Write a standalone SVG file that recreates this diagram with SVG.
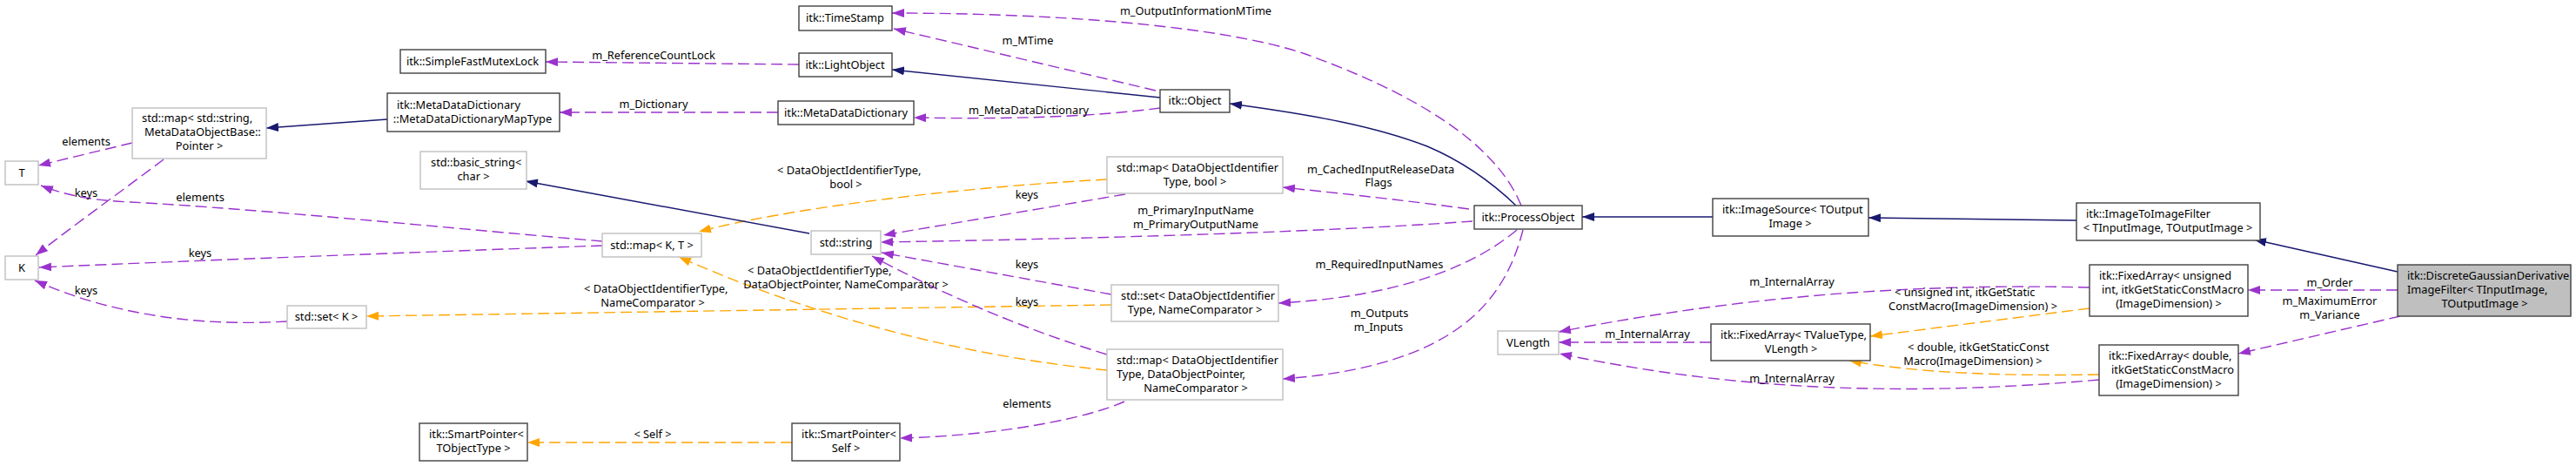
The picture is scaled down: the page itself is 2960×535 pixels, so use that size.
<svg xmlns="http://www.w3.org/2000/svg" width="2960" height="535" viewBox="0 0 2960 535">
<style>
text{font-family:"Noto Sans","Open Sans","DejaVu Sans",sans-serif;font-size:12.8px;fill:#000}
.m{text-anchor:middle}
.s{text-anchor:start}
.n rect{fill:#fff;stroke:#404040;stroke-width:1.4}
.g rect{fill:#fff;stroke:#bfbfbf;stroke-width:1.4}
.main rect{fill:#bfbfbf;stroke:#404040;stroke-width:1.4}
.e path{fill:none;stroke-width:1.4}
.p{stroke:#9a32cd;stroke-dasharray:13,6}
.o{stroke:#ffa500;stroke-dasharray:13,6}
.b{stroke:#191970}
</style>
<defs>
<marker id="ap" viewBox="0 0 14 10" refX="14" refY="5" markerWidth="14" markerHeight="10" markerUnits="userSpaceOnUse" orient="auto"><path d="M0,0 L14,5 L0,10 z" fill="#9a32cd"/></marker>
<marker id="ao" viewBox="0 0 14 10" refX="14" refY="5" markerWidth="14" markerHeight="10" markerUnits="userSpaceOnUse" orient="auto"><path d="M0,0 L14,5 L0,10 z" fill="#ffa500"/></marker>
<marker id="ab" viewBox="0 0 14 10" refX="14" refY="5" markerWidth="14" markerHeight="10" markerUnits="userSpaceOnUse" orient="auto"><path d="M0,0 L14,5 L0,10 z" fill="#191970"/></marker>
</defs>
<rect width="2960" height="535" fill="#fff"/>

<g id="edges" class="e">
<path class="b" marker-end="url(#ab)" d="M2755,312 L2590,275"/>
<path class="b" marker-end="url(#ab)" d="M2386,253 L2147,250"/>
<path class="b" marker-end="url(#ab)" d="M1968,249 L1818,249"/>
<path class="b" marker-end="url(#ab)" d="M1742,236 C1715,210 1680,185 1640,168 C1580,145 1510,132 1413,119"/>
<path class="b" marker-end="url(#ab)" d="M1333,112 L1025,80"/>
<path class="p" marker-end="url(#ap)" d="M1328,104 L1027,33"/>
<path class="p" marker-end="url(#ap)" d="M1748,236 C1725,180 1660,120 1500,62 C1400,28 1200,15 1025,15"/>
<path class="p" marker-end="url(#ap)" d="M918,74 L627,71"/>
<path class="p" marker-end="url(#ap)" d="M894,129 L643,129"/>
<path class="p" marker-end="url(#ap)" d="M1333,124 C1250,135 1150,137 1050,135"/>
<path class="b" marker-end="url(#ab)" d="M445,137 L306,147"/>
<path class="p" marker-end="url(#ap)" d="M152,164 L44,190"/>
<path class="p" marker-end="url(#ap)" d="M188,183 C150,212 80,262 41,293"/>
<path class="p" marker-end="url(#ap)" d="M692,277 C550,265 300,240 150,232 C110,230 80,226 47,213"/>
<path class="p" marker-end="url(#ap)" d="M692,282 C550,287 250,298 45,307"/>
<path class="p" marker-end="url(#ap)" d="M330,369 C230,375 130,362 40,322"/>
<path class="o" marker-end="url(#ao)" d="M1277,350 L421,363"/>
<path class="o" marker-end="url(#ao)" d="M1272,206 C1100,215 900,240 803,266"/>
<path class="o" marker-end="url(#ao)" d="M1272,425 C1120,410 950,370 780,295"/>
<path class="p" marker-end="url(#ap)" d="M1293,223 L1015,270"/>
<path class="p" marker-end="url(#ap)" d="M1277,338 L1013,290"/>
<path class="p" marker-end="url(#ap)" d="M1272,407 C1150,370 1050,320 1002,294"/>
<path class="b" marker-end="url(#ab)" d="M930,268 L604,208"/>
<path class="p" marker-end="url(#ap)" d="M1292,461 C1250,480 1150,500 1034,503"/>
<path class="o" marker-end="url(#ao)" d="M910,508 L606,508"/>
<path class="p" marker-end="url(#ap)" d="M1688,240 C1600,228 1520,220 1474,215"/>
<path class="p" marker-end="url(#ap)" d="M1692,254 C1500,268 1200,275 1012,278"/>
<path class="p" marker-end="url(#ap)" d="M1743,264 C1700,300 1620,340 1469,348"/>
<path class="p" marker-end="url(#ap)" d="M1750,264 C1730,340 1680,420 1474,435"/>
<path class="p" marker-end="url(#ap)" d="M2755,333 L2583,333"/>
<path class="p" marker-end="url(#ap)" d="M2758,363 L2572,406"/>
<path class="o" marker-end="url(#ao)" d="M2401,354 L2149,386"/>
<path class="o" marker-end="url(#ao)" d="M2412,430 C2300,432 2200,428 2125,414"/>
<path class="p" marker-end="url(#ap)" d="M2401,330 C2200,325 2000,340 1791,381"/>
<path class="p" marker-end="url(#ap)" d="M1966,393 L1791,393"/>
<path class="p" marker-end="url(#ap)" d="M2412,436 C2200,455 2000,450 1792,406"/>
</g>

<g id="edge-labels">
<text class="m" x="1374" y="17">m_OutputInformationMTime</text>
<text class="m" x="1181" y="51">m_MTime</text>
<text class="m" x="751" y="68">m_ReferenceCountLock</text>
<text class="m" x="751" y="124">m_Dictionary</text>
<text class="m" x="1182" y="131">m_MetaDataDictionary</text>
<text class="m" x="99" y="167">elements</text>
<text class="m" x="99" y="226">keys</text>
<text class="m" x="230" y="231">elements</text>
<text class="m" x="230" y="295">keys</text>
<text class="m" x="99" y="338">keys</text>
<text class="s" x="671" y="336">&lt; DataObjectIdentifierType,</text>
<text class="m" x="750" y="352">NameComparator &gt;</text>
<text class="s" x="893" y="200">&lt; DataObjectIdentifierType,</text>
<text class="m" x="972" y="216">bool &gt;</text>
<text class="s" x="859" y="315">&lt; DataObjectIdentifierType,</text>
<text class="m" x="972" y="331">DataObjectPointer, NameComparator &gt;</text>
<text class="m" x="1180" y="228">keys</text>
<text class="m" x="1180" y="308">keys</text>
<text class="m" x="1180" y="351">keys</text>
<text class="m" x="1180" y="468">elements</text>
<text class="m" x="750" y="503">&lt; Self &gt;</text>
<text class="s" x="1502" y="199">m_CachedInputReleaseData</text>
<text class="m" x="1584" y="214">Flags</text>
<text class="m" x="1374" y="246">m_PrimaryInputName</text>
<text class="m" x="1374" y="262">m_PrimaryOutputName</text>
<text class="m" x="1585" y="308">m_RequiredInputNames</text>
<text class="m" x="1585" y="364">m_Outputs</text>
<text class="m" x="1584" y="380">m_Inputs</text>
<text class="m" x="2059" y="328">m_InternalArray</text>
<text class="m" x="1893" y="388">m_InternalArray</text>
<text class="m" x="2059" y="439">m_InternalArray</text>
<text class="s" x="2177" y="340">&lt; unsigned int, itkGetStatic</text>
<text class="m" x="2267" y="356">ConstMacro(ImageDimension) &gt;</text>
<text class="s" x="2192" y="403">&lt; double, itkGetStaticConst</text>
<text class="m" x="2267" y="419">Macro(ImageDimension) &gt;</text>
<text class="m" x="2677" y="329">m_Order</text>
<text class="m" x="2677" y="350">m_MaximumError</text>
<text class="m" x="2677" y="366">m_Variance</text>
</g>

<g id="n_main" class="main"><rect x="2755" y="304" width="199" height="59"/>
<text class="s" x="2766" y="321">itk::DiscreteGaussianDerivative</text>
<text class="s" x="2766" y="337">ImageFilter&lt; TInputImage,</text>
<text class="m" x="2855" y="353">TOutputImage &gt;</text></g>

<g id="n_imagetoimage" class="n"><rect x="2386" y="233" width="211" height="43"/>
<text class="s" x="2397" y="250">itk::ImageToImageFilter</text>
<text class="m" x="2491" y="266">&lt; TInputImage, TOutputImage &gt;</text></g>

<g id="n_imagesource" class="n"><rect x="1968" y="228" width="179" height="43"/>
<text class="s" x="1979" y="245">itk::ImageSource&lt; TOutput</text>
<text class="m" x="2057" y="261">Image &gt;</text></g>

<g id="n_processobject" class="n"><rect x="1694" y="236" width="124" height="27"/>
<text class="m" x="1756" y="254">itk::ProcessObject</text></g>

<g id="n_object" class="n"><rect x="1333" y="103" width="80" height="26"/>
<text class="m" x="1373" y="120">itk::Object</text></g>

<g id="n_lightobject" class="n"><rect x="918" y="61" width="107" height="27"/>
<text class="m" x="971" y="79">itk::LightObject</text></g>

<g id="n_timestamp" class="n"><rect x="918" y="7" width="107" height="28"/>
<text class="m" x="971" y="25">itk::TimeStamp</text></g>

<g id="n_mutex" class="n"><rect x="460" y="57" width="167" height="27"/>
<text class="m" x="543" y="75">itk::SimpleFastMutexLock</text></g>

<g id="n_mdd" class="n"><rect x="894" y="116" width="156" height="27"/>
<text class="m" x="972" y="134">itk::MetaDataDictionary</text></g>

<g id="n_mddmap" class="n"><rect x="445" y="107" width="198" height="44"/>
<text class="s" x="456" y="125">itk::MetaDataDictionary</text>
<text class="m" x="543" y="141">::MetaDataDictionaryMapType</text></g>

<g id="n_mapstring" class="g"><rect x="152" y="124" width="154" height="58"/>
<text class="s" x="163" y="140">std::map&lt; std::string,</text>
<text class="s" x="166" y="156">MetaDataObjectBase::</text>
<text class="m" x="229" y="172">Pointer &gt;</text></g>

<g id="n_T" class="g"><rect x="6" y="185" width="38" height="27"/>
<text class="m" x="25" y="203">T</text></g>

<g id="n_K" class="g"><rect x="6" y="294" width="38" height="27"/>
<text class="m" x="25" y="312">K</text></g>

<g id="n_basicstring" class="g"><rect x="483" y="174" width="122" height="43"/>
<text class="s" x="495" y="191">std::basic_string&lt;</text>
<text class="m" x="544" y="207">char &gt;</text></g>

<g id="n_mapbool" class="g"><rect x="1272" y="180" width="202" height="42"/>
<text class="s" x="1283" y="197">std::map&lt; DataObjectIdentifier</text>
<text class="m" x="1373" y="213">Type, bool &gt;</text></g>

<g id="n_string" class="g"><rect x="932" y="265" width="80" height="27"/>
<text class="m" x="972" y="283">std::string</text></g>

<g id="n_mapKT" class="g"><rect x="692" y="268" width="114" height="27"/>
<text class="m" x="749" y="286">std::map&lt; K, T &gt;</text></g>

<g id="n_setK" class="g"><rect x="330" y="351" width="91" height="26"/>
<text class="m" x="375" y="368">std::set&lt; K &gt;</text></g>

<g id="n_setdoi" class="g"><rect x="1277" y="327" width="192" height="42"/>
<text class="s" x="1288" y="344">std::set&lt; DataObjectIdentifier</text>
<text class="m" x="1373" y="360">Type, NameComparator &gt;</text></g>

<g id="n_mapdop" class="g"><rect x="1272" y="401" width="202" height="58"/>
<text class="s" x="1283" y="418">std::map&lt; DataObjectIdentifier</text>
<text class="s" x="1283" y="434">Type, DataObjectPointer,</text>
<text class="m" x="1374" y="450">NameComparator &gt;</text></g>

<g id="n_sptobj" class="n"><rect x="482" y="486" width="124" height="43"/>
<text class="s" x="493" y="503">itk::SmartPointer&lt;</text>
<text class="m" x="544" y="519">TObjectType &gt;</text></g>

<g id="n_sptself" class="n"><rect x="910" y="486" width="124" height="43"/>
<text class="s" x="921" y="503">itk::SmartPointer&lt;</text>
<text class="m" x="972" y="519">Self &gt;</text></g>

<g id="n_vlength" class="g"><rect x="1721" y="380" width="70" height="27"/>
<text class="m" x="1756" y="398">VLength</text></g>

<g id="n_fatv" class="n"><rect x="1966" y="372" width="183" height="42"/>
<text class="s" x="1977" y="389">itk::FixedArray&lt; TValueType,</text>
<text class="m" x="2058" y="405">VLength &gt;</text></g>

<g id="n_fauint" class="n"><rect x="2401" y="304" width="182" height="59"/>
<text class="s" x="2412" y="321">itk::FixedArray&lt; unsigned</text>
<text class="s" x="2415" y="337">int, itkGetStaticConstMacro</text>
<text class="m" x="2492" y="353">(ImageDimension) &gt;</text></g>

<g id="n_fadouble" class="n"><rect x="2412" y="396" width="160" height="58"/>
<text class="s" x="2423" y="413">itk::FixedArray&lt; double,</text>
<text class="s" x="2426" y="429">itkGetStaticConstMacro</text>
<text class="m" x="2492" y="445">(ImageDimension) &gt;</text></g>
</svg>
